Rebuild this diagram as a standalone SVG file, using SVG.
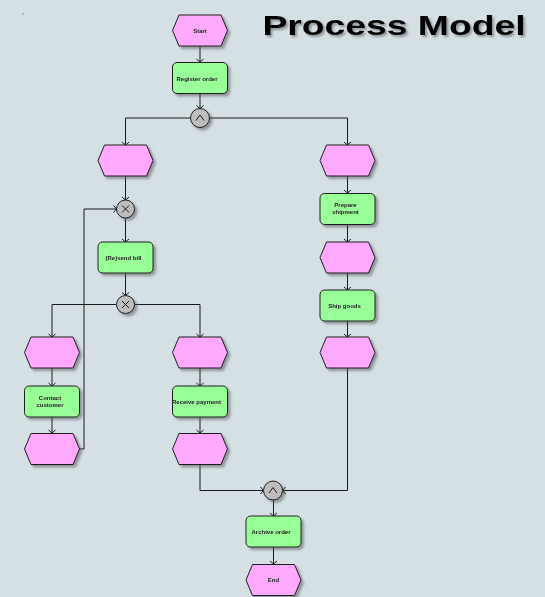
<svg xmlns="http://www.w3.org/2000/svg" width="545" height="597" viewBox="0 0 545 597">
  <defs>
    <style>
      .bg { fill: #d5e0e5; }
      .event { fill: #ffaaff; stroke: #1e1e1e; stroke-width: 1; }
      .func { fill: #99ff99; stroke: #1e1e1e; stroke-width: 1; }
      .gate { fill: #bdbdbd; stroke: #1e1e1e; stroke-width: 1; }
      .sym { fill: none; stroke: #1e1e1e; stroke-width: 1; }
      .node { filter: url(#shadow); }
      .lbl { font-family: "Liberation Sans", Arial, sans-serif; font-size: 6px; font-weight: bold; fill: #222; text-anchor: middle; }
      .edge { fill: none; stroke: #1a1a1a; stroke-width: 1; marker-end: url(#arrow); }
      .line { fill: none; stroke: #1a1a1a; stroke-width: 1; }
      .title { font-family: "Liberation Sans", Arial, sans-serif; font-size: 28px; font-weight: bold; fill: #000; filter: url(#tshadow); }
    </style>
    <filter id="shadow" x="-20%" y="-20%" width="150%" height="150%">
      <feDropShadow dx="2.5" dy="2.5" stdDeviation="1" flood-color="#4a4a4a" flood-opacity="0.5"/>
    </filter>
    <filter id="tshadow" x="-5%" y="-20%" width="110%" height="150%">
      <feDropShadow dx="2" dy="2" stdDeviation="1" flood-color="#000" flood-opacity="0.35"/>
    </filter>
    <marker id="arrow" markerUnits="userSpaceOnUse" markerWidth="8" markerHeight="8" refX="4" refY="4" orient="auto" overflow="visible">
      <path d="M1,0.5 L4,4 L1,7.5" fill="none" stroke="#1a1a1a" stroke-width="1"/>
    </marker>
    <!-- event hexagon and function box, 55 x 31, origin at the centre -->
    <polygon id="hex" points="-21,-15.5 21,-15.5 27.5,0 21,15.5 -21,15.5 -27.5,0"/>
    <rect id="box" x="-27.5" y="-15.5" width="55" height="31" rx="4.5" ry="4.5"/>
  </defs>

  <rect class="bg" x="0" y="0" width="545" height="597"/>
  <rect x="22" y="13.5" width="2" height="1" fill="#8a8a8a"/>

  <text class="title" x="262.5" y="34.5" textLength="263" lengthAdjust="spacingAndGlyphs">Process Model</text>

  <!-- connectors -->
  <g id="connectors">
    <path class="edge" d="M200,46 V62"/>
    <path class="edge" d="M200,94 V108.5"/>
    <path class="edge" d="M190.5,118 H125.5 V145"/>
    <path class="edge" d="M209.5,118 H347.5 V145"/>
    <path class="edge" d="M125.5,176 V200"/>
    <path class="edge" d="M125.5,218 V242"/>
    <path class="edge" d="M125.5,273 V295.5"/>
    <path class="edge" d="M116.5,304.5 H52 V337"/>
    <path class="edge" d="M134.5,304.5 H200 V337"/>
    <path class="edge" d="M52,368 V386"/>
    <path class="edge" d="M52,417 V433"/>
    <path class="edge" d="M79.5,449 H84 V209 H116.5"/>
    <path class="edge" d="M200,368 V386"/>
    <path class="edge" d="M200,417 V433"/>
    <path class="edge" d="M200,464 V490.5 H263.5"/>
    <path class="edge" d="M347.5,176 V193"/>
    <path class="edge" d="M347.5,225 V242"/>
    <path class="edge" d="M347.5,273 V290"/>
    <path class="edge" d="M347.5,321 V337"/>
    <path class="edge" d="M347.5,368 V490.5 H282.5"/>
    <path class="edge" d="M273.5,500 V516"/>
    <path class="edge" d="M273.5,547 V564"/>
  </g>

  <!-- events -->
  <g id="start" class="node" transform="translate(200,30.5)">
    <use href="#hex" class="event"/>
    <text class="lbl" y="2">Start</text>
  </g>
  <g id="event-left-1" class="node" transform="translate(125.5,160.5)">
    <use href="#hex" class="event"/>
  </g>
  <g id="event-right-1" class="node" transform="translate(347.5,160.5)">
    <use href="#hex" class="event"/>
  </g>
  <g id="event-right-2" class="node" transform="translate(347.5,257.5)">
    <use href="#hex" class="event"/>
  </g>
  <g id="event-right-3" class="node" transform="translate(347.5,352.5)">
    <use href="#hex" class="event"/>
  </g>
  <g id="event-contact-1" class="node" transform="translate(52,352.5)">
    <use href="#hex" class="event"/>
  </g>
  <g id="event-contact-2" class="node" transform="translate(52,449)">
    <use href="#hex" class="event"/>
  </g>
  <g id="event-payment-1" class="node" transform="translate(200,352.5)">
    <use href="#hex" class="event"/>
  </g>
  <g id="event-payment-2" class="node" transform="translate(200,449)">
    <use href="#hex" class="event"/>
  </g>
  <g id="end" class="node" transform="translate(273.5,580)">
    <use href="#hex" class="event"/>
    <text class="lbl" y="2">End</text>
  </g>

  <!-- functions -->
  <g id="register-order" class="node" transform="translate(200,78)">
    <use href="#box" class="func"/>
    <text class="lbl" x="-3" y="2.5">Register order</text>
  </g>
  <g id="resend-bill" class="node" transform="translate(125.5,257.5)">
    <use href="#box" class="func"/>
    <text class="lbl" x="-2" y="2">(Re)send bill</text>
  </g>
  <g id="prepare-shipment" class="node" transform="translate(347.5,209)">
    <use href="#box" class="func"/>
    <text class="lbl" x="-2" y="-2">Prepare</text>
    <text class="lbl" x="-2" y="5">shipment</text>
  </g>
  <g id="ship-goods" class="node" transform="translate(347.5,305.5)">
    <use href="#box" class="func"/>
    <text class="lbl" x="-3" y="2">Ship goods</text>
  </g>
  <g id="contact-customer" class="node" transform="translate(52,401.5)">
    <use href="#box" class="func"/>
    <text class="lbl" x="-2" y="-1.5">Contact</text>
    <text class="lbl" x="-2" y="5.5">customer</text>
  </g>
  <g id="receive-payment" class="node" transform="translate(200,401.5)">
    <use href="#box" class="func"/>
    <text class="lbl" x="-3.5" y="2">Receive payment</text>
  </g>
  <g id="archive-order" class="node" transform="translate(273.5,531.5)">
    <use href="#box" class="func"/>
    <text class="lbl" x="-2.5" y="2">Archive order</text>
  </g>

  <!-- connectors: AND / XOR -->
  <g id="and-split" class="node" transform="translate(200,118)">
    <circle class="gate" r="9.5"/>
    <path class="sym" d="M-4,2.5 L0,-3 L4,2.5"/>
  </g>
  <g id="xor-join" class="node" transform="translate(125.5,209)">
    <circle class="gate" r="9"/>
    <path class="sym" d="M-3.5,-3.5 L3.5,3.5 M3.5,-3.5 L-3.5,3.5"/>
  </g>
  <g id="xor-split" class="node" transform="translate(125.5,304.5)">
    <circle class="gate" r="9"/>
    <path class="sym" d="M-3.5,-3.5 L3.5,3.5 M3.5,-3.5 L-3.5,3.5"/>
  </g>
  <g id="and-join" class="node" transform="translate(273,490.5)">
    <circle class="gate" r="9.5"/>
    <path class="sym" d="M-4,2.5 L0,-3 L4,2.5"/>
  </g>
</svg>
